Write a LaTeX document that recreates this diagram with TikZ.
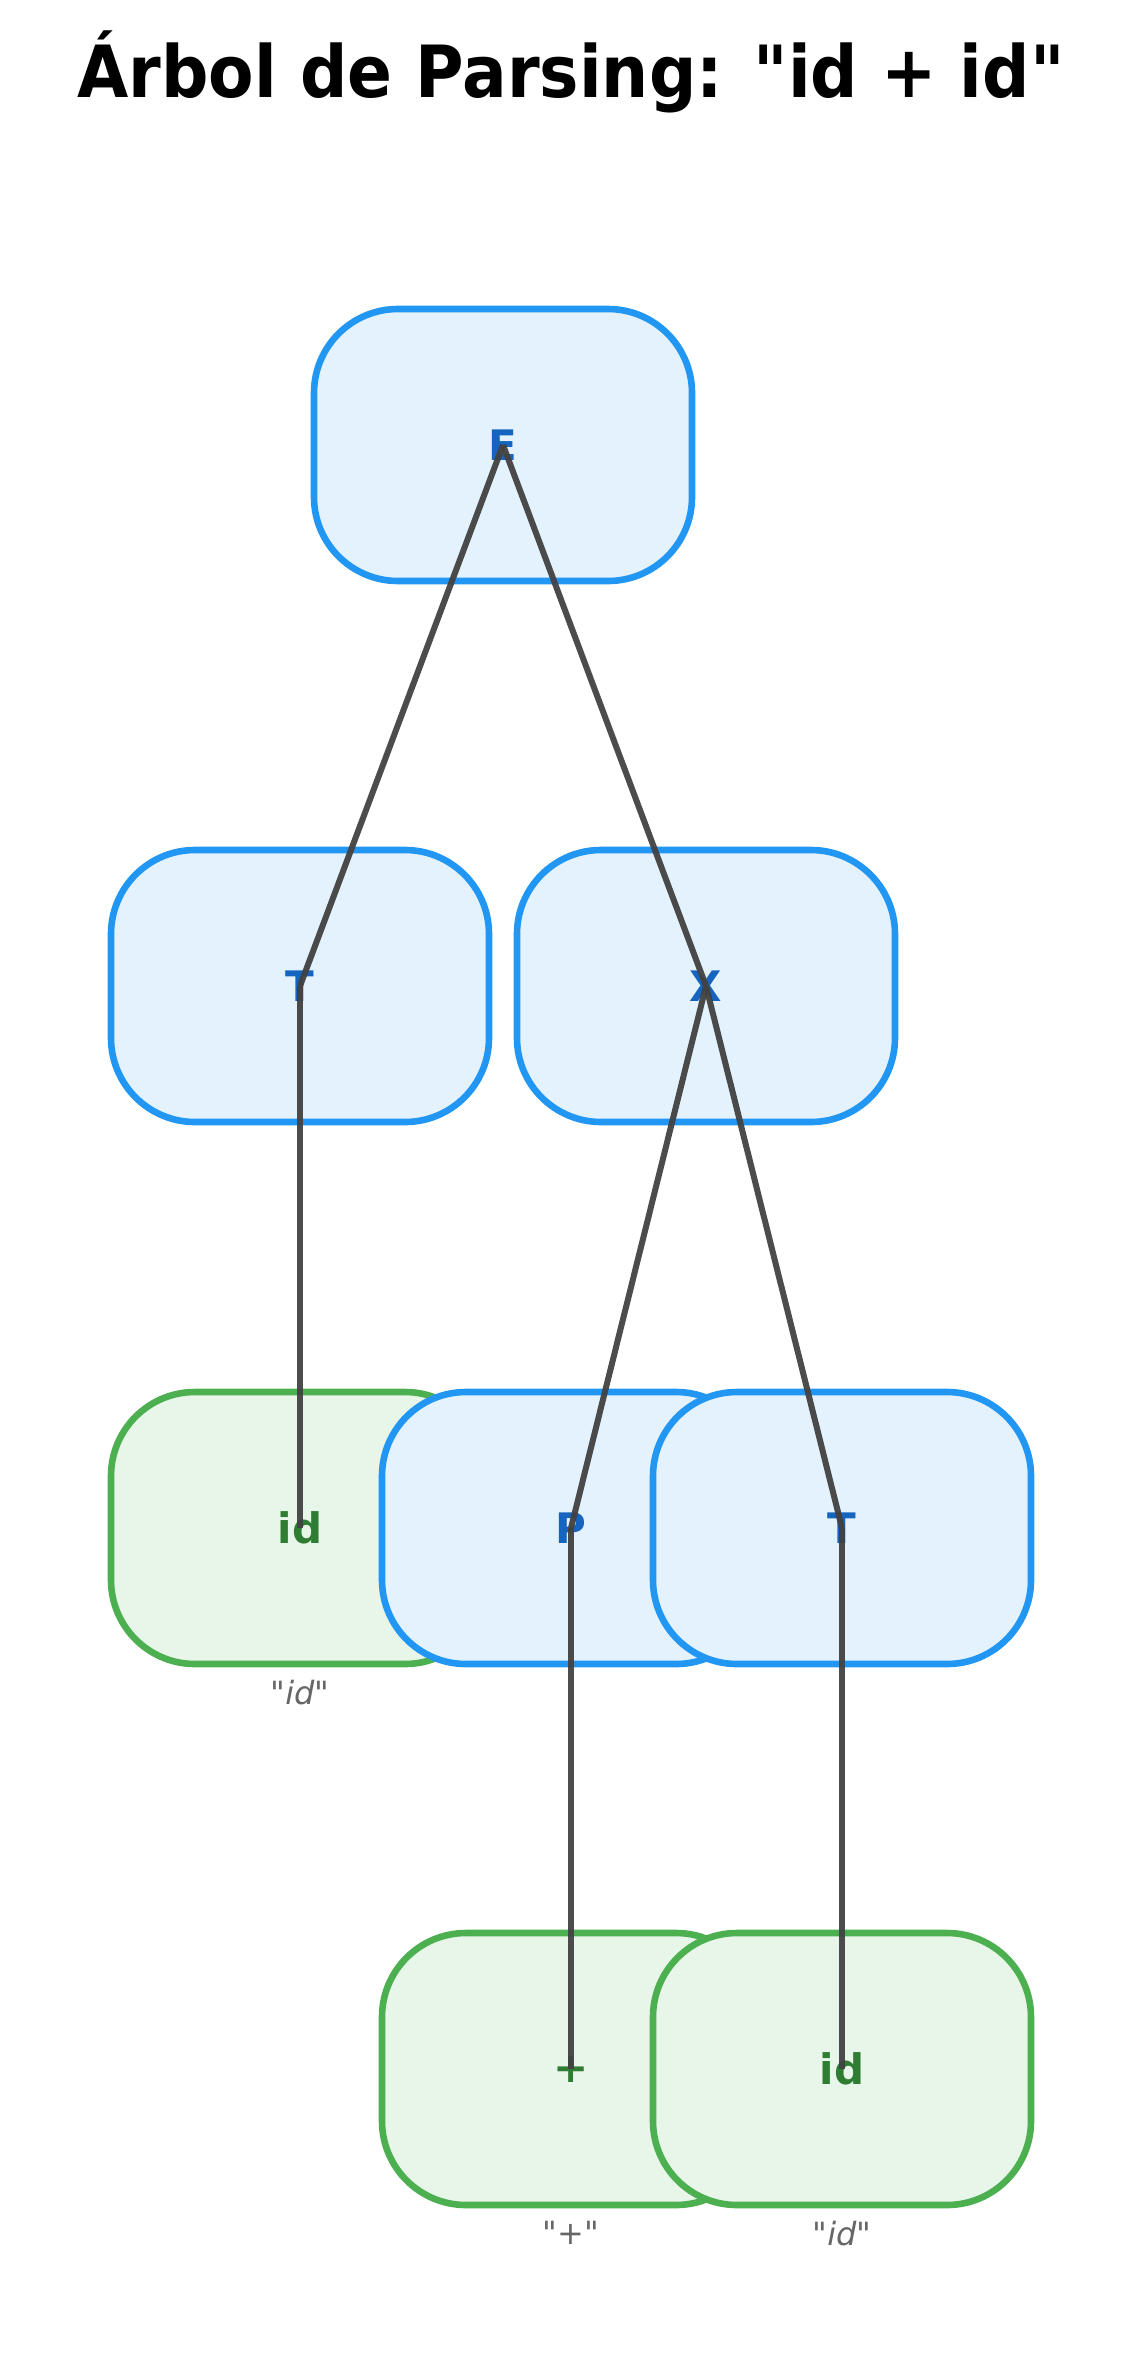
\documentclass[tikz,border=0pt]{standalone}
\usepackage{fontspec}
\setmainfont{DejaVu Sans}[Ligatures=TeXOff]
\definecolor{ntborder}{HTML}{2196F3}
\definecolor{ntfill}{HTML}{E3F2FD}
\definecolor{nttext}{HTML}{1565C0}
\definecolor{tborder}{HTML}{4CAF50}
\definecolor{tfill}{HTML}{E8F5E9}
\definecolor{ttext}{HTML}{2E7D32}
\definecolor{edgecol}{HTML}{424242}
\definecolor{lexcol}{HTML}{666666}
\begin{document}
\begin{tikzpicture}[x=0.5pt,y=-0.5pt,
  box/.style={draw, line width=3.3pt, rounded corners=42pt,
    minimum width=189pt, minimum height=136pt, inner sep=0pt,
    font=\fontsize{21}{25}\selectfont\bfseries},
  nonterm/.style={box, draw=ntborder, fill=ntfill, text=nttext},
  term/.style={box, draw=tborder, fill=tfill, text=ttext},
  treeedge/.style={draw=edgecol, line width=3pt, draw opacity=0.95},
  lexeme/.style={text=lexcol, font=\fontsize{16}{19}\selectfont},
]
\useasboundingbox (0,0) rectangle (1143,2372);
\node[font=\fontsize{36}{42}\selectfont\bfseries, xscale=0.92] (title) at (571,72) {Árbol de Parsing: "id + id"};

% nodes, in drawing order (later boxes overlap earlier ones)
\node[nonterm] (E)   at (503,445)  {E};
\node[nonterm] (T1)  at (300,986)  {T};
\node[nonterm] (X)   at (706,986)  {X};
\node[term]    (id1) at (300,1528) {id};
\node[nonterm] (P)   at (571,1528) {P};
\node[nonterm] (T2)  at (842,1528) {T};
\node[term]    (plus) at (571,2069) {+};
\node[term]    (id2) at (842,2069) {id};

% tree edges
\draw[treeedge] (E.center) -- (T1.center);
\draw[treeedge] (E.center) -- (X.center);
\draw[treeedge] (T1.center) -- (id1.center);
\draw[treeedge] (X.center) -- (P.center);
\draw[treeedge] (X.center) -- (T2.center);
\draw[treeedge] (P.center) -- (plus.center);
\draw[treeedge] (T2.center) -- (id2.center);

% lexemes under the terminals
\node[lexeme, anchor=north] (lx1) at ([yshift=-3pt]id1.south) {"\textit{id}"};
\node[lexeme, anchor=north] (lx2) at ([yshift=-3pt]plus.south) {"+"};
\node[lexeme, anchor=north] (lx3) at ([yshift=-3pt]id2.south) {"\textit{id}"};
\end{tikzpicture}
\end{document}
